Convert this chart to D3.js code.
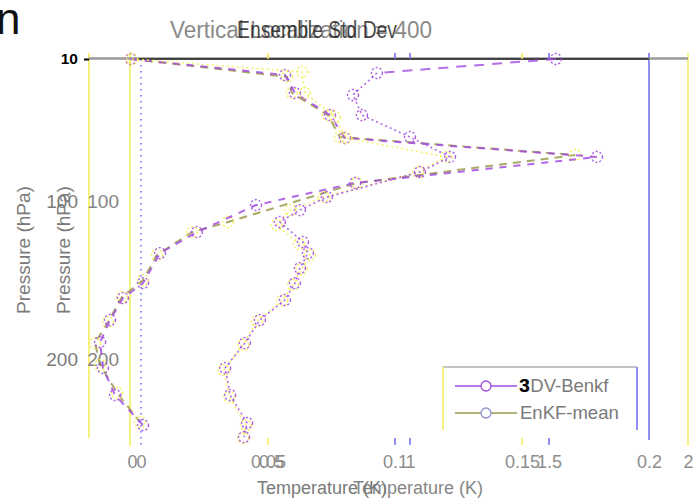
<!DOCTYPE html>
<html><head><meta charset="utf-8">
<script src="https://cdn.jsdelivr.net/npm/d3@7"></script>
<style>
html,body{margin:0;padding:0;background:#fff;}
svg{display:block;font-family:"Liberation Sans",Arial,sans-serif;}
</style></head><body>
<svg id="chart" width="698" height="499"></svg>
<script>
// Pressure axis (hPa) and the two temperature-spread axes (K)
const pressureTicks = [100, 200];
const topPressureTick = [10];
const spreadTicksA = [0, 0.05, 0.1, 0.15, 0.2];
const spreadTicksB = [0, 0.5, 1, 1.5, 2];

// Panel A: ensemble std dev profiles (K)
const benkfPressureA = [10, 20.1, 31.5, 45.5, 60, 72, 88.5, 102.5, 119.6, 132.9, 151.9, 161.4, 175.3, 189.2, 205.7, 222.8, 241.8];
const benkfSpreadA   = [-0.004, 0.0567, 0.0606, 0.0744, 0.0803, 0.1795, 0.0843, 0.0453, 0.022, 0.0075, 0.0008, -0.0071, -0.0122, -0.0161, -0.015, -0.0102, 0.0008];
const enkfPressureA  = [10, 21.3, 31.5, 45.5, 59.4, 70.8, 88.5, 113.2, 119.6, 134.1, 150, 160.7, 176.6, 189.9, 203.8, 221.5, 239.9];
const enkfSpreadA    = [-0.004, 0.0575, 0.0594, 0.0736, 0.0783, 0.1709, 0.085, 0.0343, 0.0201, 0.0063, 0.0008, -0.0075, -0.013, -0.0181, -0.0161, -0.0094, -0.0004];

// Panel B: profiles on the 0-2 axis
const benkfPressureB = [10, 18.9, 32.8, 45.5, 59.4, 72, 81.6, 97.4, 105.7, 113.2, 125.9, 132.9, 142.4, 151.9, 162.6, 175.3, 189.9, 205.7, 222.8, 240.5, 249.4];
const benkfSpreadB   = [1.525, 0.881, 0.795, 0.827, 1.0, 1.144, 1.036, 0.701, 0.604, 0.532, 0.615, 0.633, 0.604, 0.586, 0.55, 0.46, 0.406, 0.335, 0.353, 0.414, 0.403];
const enkfPressureB  = [10, 18.2, 31.5, 46.7, 60, 72, 81.6, 97.4, 105.7, 115.1, 127, 134.1, 143, 153, 163, 176, 191, 207, 224, 242, 250];
const enkfSpreadB    = [0, 0.612, 0.622, 0.73, 0.77, 1.13, 1.03, 0.69, 0.57, 0.52, 0.6, 0.64, 0.61, 0.58, 0.54, 0.45, 0.4, 0.33, 0.35, 0.41, 0.4];

const legendLabels = ["3DV-Benkf", "EnKF-mean"];

const svg = d3.select("#chart");
const y = d3.scaleLinear().domain([10, 250]).range([59, 438]);
const xA = d3.scaleLinear().domain([0, 0.2]).range([141, 649]);
const xB = d3.scaleLinear().domain([0, 2]).range([132, 688]);

const purple = "#a24be0", olive = "#9a9a4a", yellow = "#f4ee55", blue = "#6b6bf0", grey = "#7a7a7a";

// stray glyph at the top-left corner
svg.append("text").attr("x", -4).attr("y", 34).attr("font-size", 44).attr("fill", "#111").text("n");

// frame lines
const vlines = [
  {x: xA(-0.0205), y2: 438, c: yellow, w: 1.5},
  {x: xB(-0.007), y2: 446, c: yellow, w: 1.5},
  {x: xA(0.2), y2: 440, c: blue, w: 1.5},
  {x: xB(2), y2: 446, c: yellow, w: 1.5}
];
svg.selectAll("line.v").data(vlines).join("line").attr("class", "v")
  .attr("x1", d => d.x).attr("x2", d => d.x).attr("y1", y(10) - 6).attr("y2", d => d.y2)
  .attr("stroke", d => d.c).attr("stroke-width", d => d.w);
// zero line
svg.append("line").attr("x1", xA(0)).attr("x2", xA(0)).attr("y1", y(10)).attr("y2", 447)
  .attr("stroke", blue).attr("stroke-width", 1.5).attr("stroke-dasharray", "1.5,4.5");
// top border
svg.append("line").attr("x1", xA(-0.0205)).attr("x2", xB(2)).attr("y1", y(10) - 0.5).attr("y2", y(10) - 0.5)
  .attr("stroke", "#999").attr("stroke-width", 2.5);
svg.append("line").attr("x1", xB(0)).attr("x2", xA(0.2)).attr("y1", y(10)).attr("y2", y(10))
  .attr("stroke", "#222").attr("stroke-width", 1.6);

// small ticks on top and bottom
const tickMarks = [
  {x: xA(0.05), c: yellow}, {x: xA(0.1), c: blue}, {x: xB(1), c: blue},
  {x: xA(0.15), c: yellow}, {x: xB(1.5), c: blue}
];
tickMarks.forEach(t => {
  svg.append("line").attr("x1", t.x).attr("x2", t.x).attr("y1", y(10) - 6).attr("y2", y(10))
    .attr("stroke", t.c).attr("stroke-width", 1.5);
  svg.append("line").attr("x1", t.x).attr("x2", t.x).attr("y1", 438).attr("y2", 445)
    .attr("stroke", t.c).attr("stroke-width", 1.5);
});

// titles
svg.append("text").attr("x", 170).attr("y", 38)
  .attr("font-size", 23).attr("fill", "#8a8a8a")
  .attr("textLength", 262).attr("lengthAdjust", "spacingAndGlyphs").text("Vertical Localization = 400");
svg.append("text").attr("x", 237).attr("y", 38)
  .attr("font-size", 23).attr("fill", "#1a1a1a").attr("opacity", 0.8)
  .attr("textLength", 160).attr("lengthAdjust", "spacingAndGlyphs").text("Ensemble Std Dev");

// y axes
function styleAxis(g, color, size, weight) {
  g.select(".domain").remove();
  g.selectAll("text").attr("fill", color).attr("font-size", size).attr("font-weight", weight)
    .attr("font-family", '"Liberation Sans",Arial,sans-serif');
}
svg.append("g").attr("transform", "translate(89,0)")
  .call(d3.axisLeft(y).tickValues(topPressureTick).tickSize(5).tickPadding(6))
  .call(g => styleAxis(g, "#000", 15.5, "bold"))
  .call(g => g.selectAll("line").attr("stroke", "#000").attr("stroke-width", 2));
svg.append("g").attr("transform", "translate(79,0)")
  .call(d3.axisLeft(y).tickValues(pressureTicks).tickSize(0).tickPadding(1))
  .call(g => styleAxis(g, grey, 19, "normal"));
svg.append("g").attr("transform", "translate(120,0)")
  .call(d3.axisLeft(y).tickValues(pressureTicks).tickSize(0).tickPadding(1))
  .call(g => styleAxis(g, "#858585", 19, "normal"));

// x axes
svg.append("g").attr("transform", "translate(0,452)")
  .call(d3.axisBottom(xA).tickValues(spreadTicksA).tickSize(0).tickPadding(3).tickFormat(d3.format("")))
  .call(g => styleAxis(g, "#8d8d8d", 18, "normal"));
svg.append("g").attr("transform", "translate(0,452)")
  .call(d3.axisBottom(xB).tickValues(spreadTicksB).tickSize(0).tickPadding(3).tickFormat(d3.format("")))
  .call(g => styleAxis(g, "#8d8d8d", 18, "normal"));

// axis titles
svg.append("text").attr("x", 322).attr("y", 494).attr("text-anchor", "middle")
  .attr("font-size", 18).attr("fill", grey).text("Temperature (K)");
svg.append("text").attr("x", 418).attr("y", 494).attr("text-anchor", "middle")
  .attr("font-size", 18).attr("fill", grey).attr("opacity", 0.9).text("Temperature (K)");
[30, 70].forEach(cx => {
  svg.append("text").attr("transform", `translate(${cx},250) rotate(-90)`).attr("text-anchor", "middle")
    .attr("font-size", 19).attr("fill", grey).text("Pressure (hPa)");
});

// profiles
const series = [
  {p: enkfPressureA, v: enkfSpreadA, x: xA, line: olive, dash: "8,6", mark: yellow, w: 2, start: 0},
  {p: benkfPressureA, v: benkfSpreadA, x: xA, line: purple, dash: "7,7", mark: purple, w: 2, start: 0},
  {p: enkfPressureB, v: enkfSpreadB, x: xB, line: yellow, dash: "2,3", mark: yellow, w: 1.6, start: 0},
  {p: benkfPressureB, v: benkfSpreadB, x: xB, line: purple, dash: "2,3", mark: purple, w: 1.6, start: 1}
];
series.forEach(s => {
  const pts = s.p.map((p, i) => [s.x(s.v[i]), y(p)]);
  if (s.start > 0) {
    // first layer drawn with long dashes
    svg.append("path").attr("d", d3.line()(pts.slice(0, s.start + 1))).attr("fill", "none")
      .attr("stroke", s.line).attr("stroke-width", 2).attr("stroke-dasharray", "10,8").attr("opacity", 0.8);
  }
  svg.append("path").attr("d", d3.line()(pts.slice(s.start))).attr("fill", "none")
    .attr("stroke", s.line).attr("stroke-width", s.w).attr("stroke-dasharray", s.dash).attr("opacity", 0.85);
  svg.append("g").selectAll("circle").data(pts).join("circle")
    .attr("cx", d => d[0]).attr("cy", d => d[1]).attr("r", 5.5)
    .attr("fill", "none").attr("stroke", s.mark).attr("stroke-width", 1.4)
    .attr("stroke-dasharray", "2,2").attr("opacity", 0.9);
});

// legend
const lg = svg.append("g");
lg.append("line").attr("x1", 443).attr("x2", 637).attr("y1", 367).attr("y2", 367).attr("stroke", "#888").attr("stroke-width", 1.2);
lg.append("line").attr("x1", 443).attr("x2", 443).attr("y1", 367).attr("y2", 430).attr("stroke", yellow).attr("stroke-width", 1.5);
lg.append("line").attr("x1", 637).attr("x2", 637).attr("y1", 367).attr("y2", 430).attr("stroke", blue).attr("stroke-width", 1.5);
const legendColors = [purple, olive];
const legendMarks = [purple, "#9090d0"];
legendLabels.forEach((lab, i) => {
  const ly = 386 + i * 27;
  lg.append("line").attr("x1", 455).attr("x2", 517).attr("y1", ly).attr("y2", ly).attr("stroke", legendColors[i]).attr("stroke-width", 1.5);
  lg.append("circle").attr("cx", 486).attr("cy", ly).attr("r", 5).attr("fill", "#fff").attr("stroke", legendMarks[i]).attr("stroke-width", 1.3);
  lg.append("text").attr("x", 520).attr("y", ly + 6).attr("font-size", 18.5).attr("fill", grey).text(lab);
});
lg.append("text").attr("x", 519).attr("y", 392).attr("font-size", 19).attr("font-weight", "bold").attr("fill", "#000").text("3");
</script>
</body></html>
